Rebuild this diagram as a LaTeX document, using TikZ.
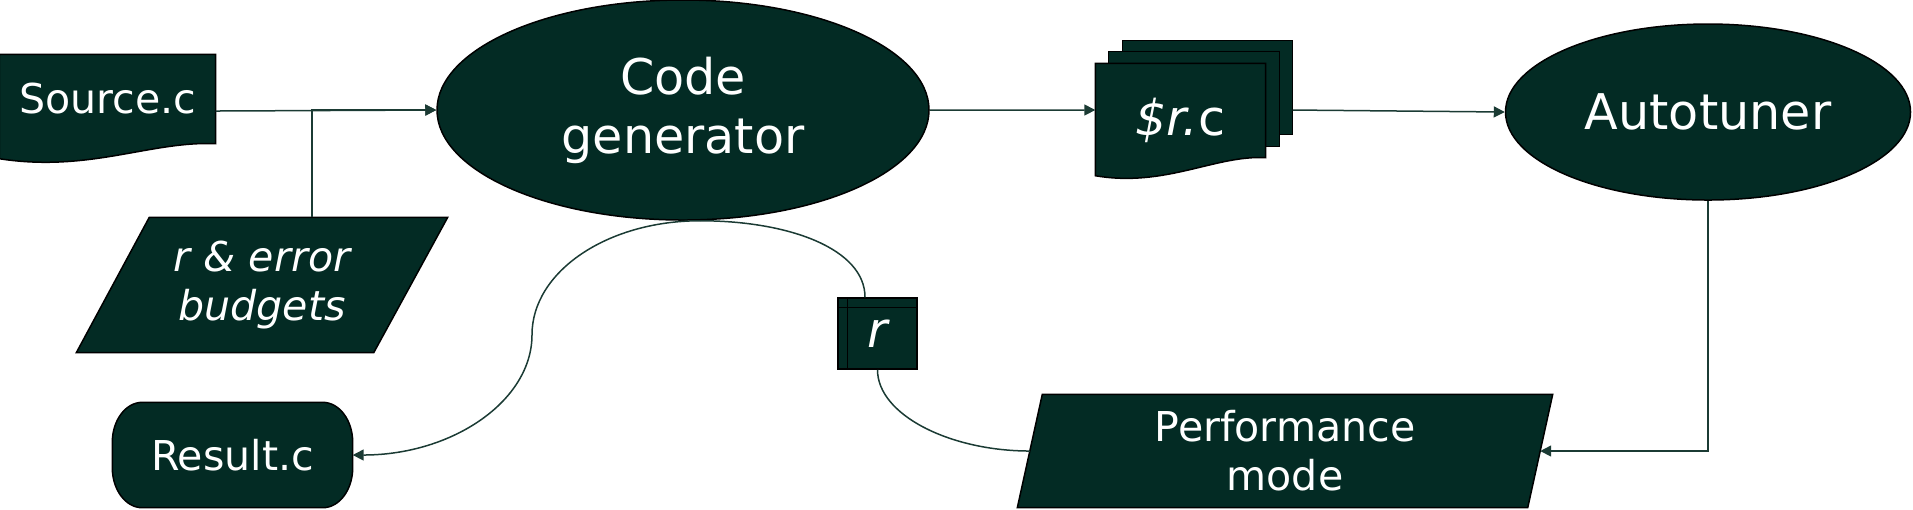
\documentclass[tikz,border=0pt]{standalone}
\usepackage{fontspec}
\setmainfont{DejaVu Sans}
\usetikzlibrary{calc,positioning,arrows.meta,shapes.geometric,backgrounds}
\definecolor{pine}{HTML}{032B24}
\definecolor{linegreen}{HTML}{1B3B34}
\tikzset{
  shapefill/.style={fill=pine,draw=black,line width=0.15mm},
  txt/.style={text=white,inner sep=0pt,align=center},
  blk/.style={shapefill,txt},
  oval/.style={blk,ellipse},
  big/.style={font=\fontsize{14}{16.8}\selectfont},
  small/.style={font=\fontsize{11.7}{14}\selectfont},
  smallit/.style={font=\fontsize{11.7}{14}\selectfont\itshape},
  link/.style={linegreen,line width=0.15mm},
  flow/.style={-{Triangle[length=1.1mm,width=1.1mm]},link},
  corner/.style={x radius=3mm,y radius=4mm},
}
\begin{document}
\begin{tikzpicture}[x=0.1mm,y=-0.1mm]
\useasboundingbox (0,0) rectangle (1913,509);
\node[oval,big,minimum width=49.2mm,minimum height=22mm] (gen) at (683,110) {Code\\generator};
\node[oval,big,minimum width=40.5mm,minimum height=17.6mm] (aut) at (1708,112) {Autotuner};
\node[txt,small,minimum width=21.5mm,minimum height=8.8mm] (src) at (107.5,99) {Source.c};
\node[txt,big,minimum width=16.9mm,minimum height=11.2mm] (rc) at (1180.5,120) {\textit{\$r.}c};
\node[txt,smallit,minimum width=37mm,minimum height=13.4mm] (bud) at (262,285) {r \& error\\budgets};
\node[txt,small,minimum width=53.4mm,minimum height=11.2mm] (perf) at (1285,451) {Performance\\mode};
\node[txt,small,minimum width=23.9mm,minimum height=10.4mm] (res) at (232.5,455) {Result.c};
\node[blk,big,font=\fontsize{14}{16.8}\selectfont\itshape,minimum width=7.9mm,minimum height=7.1mm] (rb) at (877.5,333.5) {r};
\draw[line width=0.15mm] ([yshift=-1mm]rb.north west) -- ([yshift=-1mm]rb.north east);
\draw[line width=0.15mm] ([xshift=1mm]rb.north west) -- ([xshift=1mm]rb.south west);

\begin{scope}[on background layer]
\filldraw[shapefill] ([shift={(27,-23)}]rc.north west) rectangle ([shift={(27,-42)}]rc.south east);
\filldraw[shapefill] ([shift={(13,-12)}]rc.north west) rectangle ([shift={(14,-30)}]rc.south east);
\filldraw[shapefill] (rc.north west) -- (rc.north east) -- ([yshift=1.9mm]rc.south east)
  .. controls +(-50,-3) and +(70,12) .. ([yshift=0.1mm]rc.south west) -- cycle;
\filldraw[shapefill] (src.north west) -- (src.north east) -- (src.south east)
  .. controls +(-65,-3) and +(90,14) .. ([yshift=-1.5mm]src.south west) -- cycle;
\filldraw[shapefill] ([xshift=7.3mm]bud.north west) -- (bud.north east)
  -- ([xshift=-7.4mm]bud.south east) -- (bud.south west) -- cycle;
\filldraw[shapefill] ([xshift=2.5mm]perf.north west) -- (perf.north east)
  -- ([xshift=-2.5mm]perf.south east) -- (perf.south west) -- cycle;
\filldraw[shapefill] ([xshift=3mm]res.north west) -- ([xshift=-3mm]res.north east)
  arc[start angle=90,end angle=0,corner] -- ([yshift=4mm]res.south east)
  arc[start angle=0,end angle=-90,corner] -- ([xshift=3mm]res.south west)
  arc[start angle=270,end angle=180,corner] -- ([yshift=-4mm]res.north west)
  arc[start angle=180,end angle=90,corner] -- cycle;
\end{scope}

\draw[flow] ([yshift=-1.2mm]src.east) -- (gen.west);
\draw[flow] ([xshift=5mm]bud.north) |- (gen.west);
\draw[flow] (gen.east) -- ([yshift=1mm]rc.west);
\draw[flow] ([shift={(27,-10)}]rc.east) -- (aut.west);
\draw[flow] (aut.south) |- ([xshift=-1.25mm]perf.east);
\coordinate (tap) at ([xshift=1.7mm]gen.south);
\draw[flow] (tap) .. controls +(-93,0) and +(0,-63) .. ++(-168,114)
  .. controls +(0,66) and +(100,0) .. (res.east);
\draw[link] (tap) .. controls +(90,0) and +(0,-48) .. ([xshift=-1.25mm]rb.north);
\draw[link] (rb.south) .. controls +(0,45) and +(-80,0) .. ([xshift=1.25mm]perf.west);
\end{tikzpicture}
\end{document}
